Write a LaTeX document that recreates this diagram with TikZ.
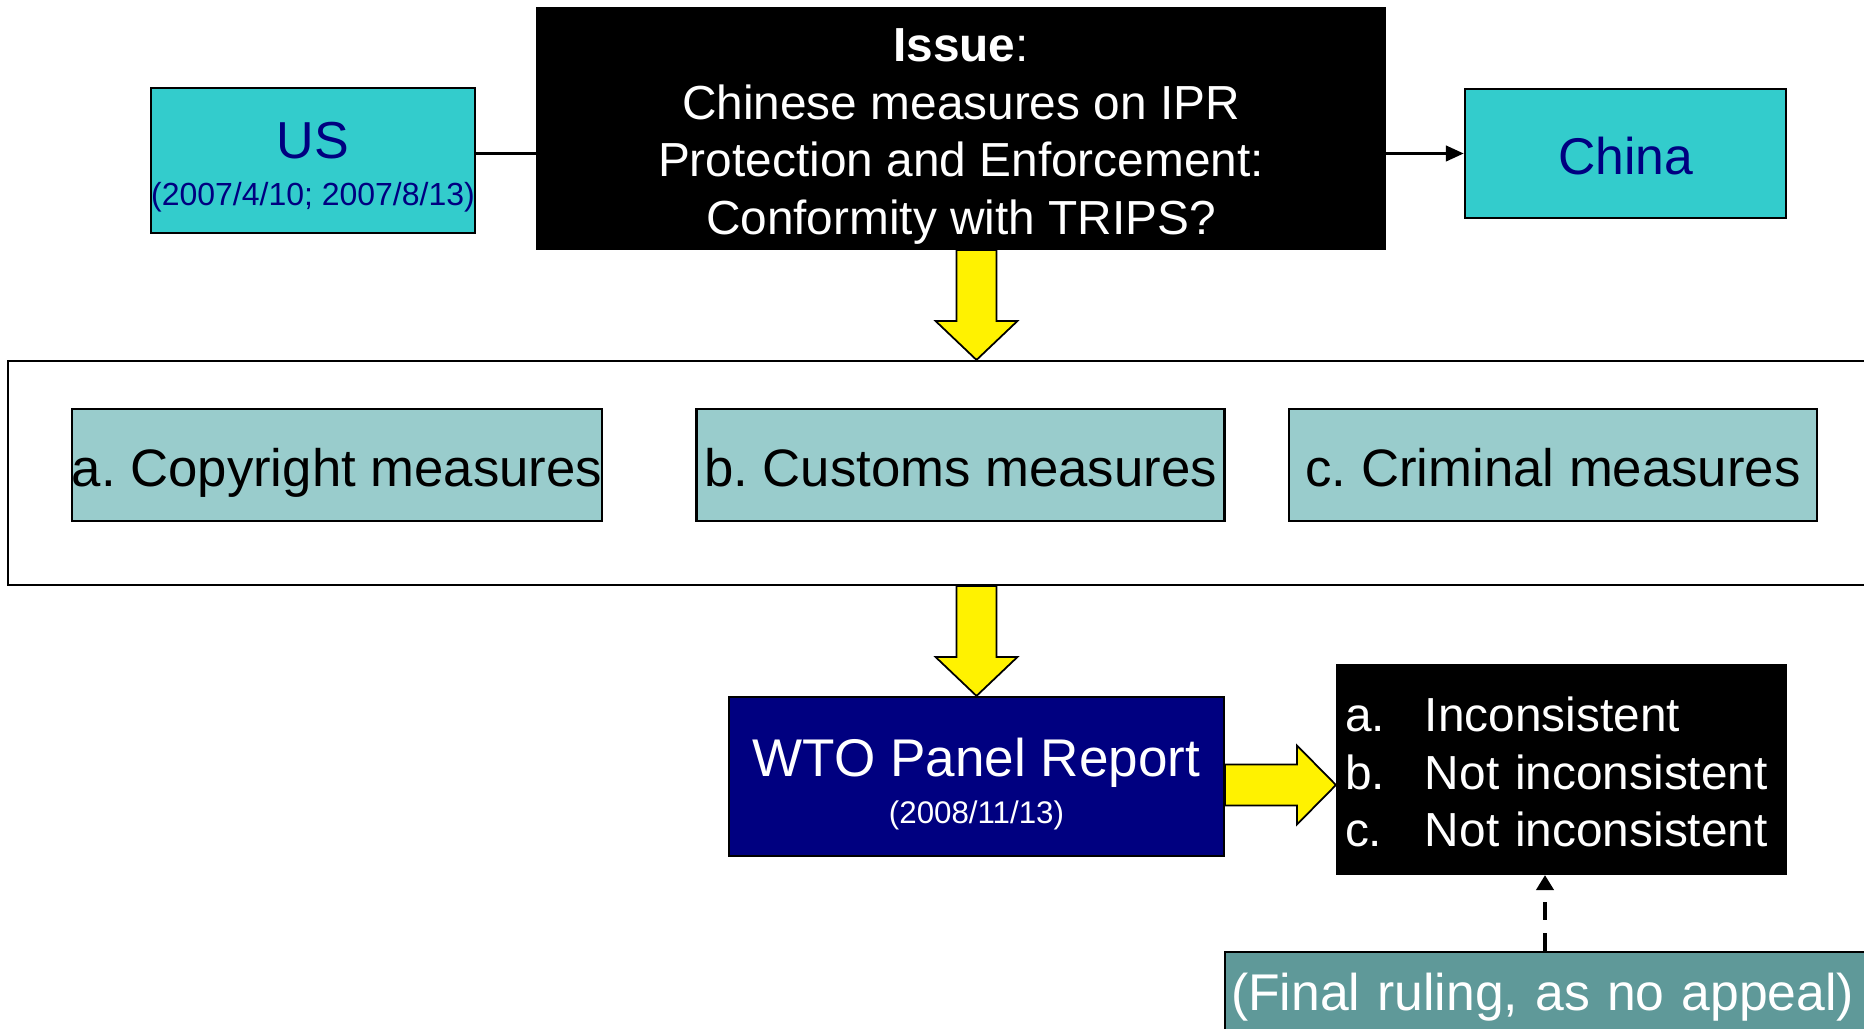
\documentclass[tikz,border=0pt]{standalone}
\usepackage{fontspec}
\setmainfont{Liberation Sans}
\usetikzlibrary{calc,arrows.meta}
\definecolor{turq}{HTML}{33CCCC}
\definecolor{navytext}{HTML}{000080}
\definecolor{paleteal}{HTML}{99CCCC}
\definecolor{dullteal}{HTML}{5F9999}
\tikzset{
  box/.style={draw=black, line width=0.6pt, inner sep=0pt},
  party/.style={box, fill=turq, text=navytext, align=center},
  measure/.style={box, fill=paleteal, minimum width=5.28cm, minimum height=1.12cm,
                  text height=12.4pt, text depth=0pt, font=\fontsize{15}{18}\selectfont},
  yarrow/.style={draw=black, fill=yellow, line width=0.5pt, line join=miter},
}
% yellow block arrows: start, tip
\newcommand{\blockdown}[2]{%
  \draw[yarrow] ($(#1)+(-0.2,0)$) -- ($(#2)+(-0.2,0.39)$) -- ($(#2)+(-0.41,0.39)$) -- (#2)
    -- ($(#2)+(0.41,0.39)$) -- ($(#2)+(0.2,0.39)$) -- ($(#1)+(0.2,0)$) -- cycle;}
\newcommand{\blockright}[2]{%
  \draw[yarrow] ($(#1)+(0,0.205)$) -- ($(#2)+(-0.39,0.205)$) -- ($(#2)+(-0.39,0.395)$) -- (#2)
    -- ($(#2)+(-0.39,-0.395)$) -- ($(#2)+(-0.39,-0.205)$) -- ($(#1)+(0,-0.205)$) -- cycle;}
\begin{document}
\frenchspacing
\begin{tikzpicture}
  \useasboundingbox (0,0) rectangle (18.64,-10.29);
  \clip (0,0) rectangle (18.64,-10.29);

  % top row
  \node[box, fill=black, text=white, minimum width=8.48cm, minimum height=2.41cm, align=center,
        text height=60.3pt, text depth=0pt, font=\fontsize{13.6}{16.4}\selectfont] (issue) at (9.61,-1.285)
       {\textbf{Issue}:\\Chinese measures on IPR\\Protection and Enforcement:\\Conformity with TRIPS?};
  \node[party, minimum width=3.2cm, minimum height=1.45cm, text height=25.5pt, text depth=0pt] (us) at (3.13,-1.605)
       {\fontsize{14.8}{17}\selectfont US\\[1.2pt]\fontsize{9.1}{11}\selectfont (2007/4/10; 2007/8/13)};
  \node[party, minimum width=3.21cm, minimum height=1.29cm, text height=11.9pt, text depth=0pt,
        font=\fontsize{14.7}{17}\selectfont] (china) at (16.255,-1.535) {China};

  \draw[line width=1.1pt] (china.west -| us.east) -- (china.west -| issue.west);
  \draw[line width=1.1pt, -{Triangle[length=0.18cm, width=0.15cm]}] (china.west -| issue.east) -- (china.west);

  % the three measures
  \node[box, minimum width=18.72cm, minimum height=2.24cm] (frame) at (9.44,-4.73) {};
  \node[measure] (copyright) at (3.37,-4.65) {a. Copyright measures};
  \node[measure] (customs) at (9.605,-4.65) {b. Customs measures};
  \node[measure] (criminal) at (15.53,-4.65) {c. Criminal measures};

  % report and ruling
  \node[box, fill=navytext, text=white, minimum width=4.95cm, minimum height=1.59cm, align=center,
        text height=26.6pt, text depth=0pt] (panel) at (9.765,-7.765)
       {\fontsize{15.1}{18}\selectfont WTO Panel Report\\[1.3pt]\fontsize{8.9}{11}\selectfont (2008/11/13)};
  \node[box, fill=black, text=white, minimum width=4.49cm, minimum height=2.09cm, text width=4.33cm,
        text height=0pt, text depth=21.6pt, font=\fontsize{13.6}{16.4}\selectfont] (ruling) at (15.615,-7.695)
       {\begin{tabular}[t]{@{}p{0.8cm}@{}l@{}}a.&Inconsistent\\b.&Not inconsistent\\c.&Not inconsistent\end{tabular}};
  \node[box, fill=dullteal, text=white, anchor=north west, minimum width=7cm, minimum height=0.9cm,
        text width=6.88cm, align=left, font=\fontsize{14.7}{18}\selectfont] (final) at (12.24,-9.51)
       {(Final ruling, as no appeal)};

  % arrows
  \coordinate (drop1) at (issue.south -| panel.north);
  \coordinate (drop1tip) at (frame.north -| panel.north);
  \blockdown{drop1}{drop1tip}
  \coordinate (drop2) at (frame.south -| panel.north);
  \blockdown{drop2}{panel.north}
  \coordinate (push) at ([yshift=-0.085cm]panel.east);
  \coordinate (pushtip) at (push -| ruling.west);
  \blockright{push}{pushtip}

  \coordinate (rulingfoot) at ([xshift=-0.165cm]ruling.south);
  \draw[line width=1.3pt, dash pattern=on 0.18cm off 0.13cm, -{Triangle[length=0.15cm, width=0.17cm]}]
       (final.north -| rulingfoot) -- (rulingfoot);
\end{tikzpicture}
\end{document}
